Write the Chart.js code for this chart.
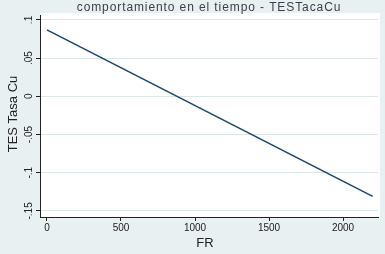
<!DOCTYPE html>
<html><head><meta charset="utf-8">
<script src="https://cdn.jsdelivr.net/npm/chart.js@4/dist/chart.umd.min.js"></script>
<style>html,body{margin:0;padding:0;background:#e9f0f1;}#c{display:block;}</style>
</head><body>
<canvas id="c" width="385" height="254"></canvas>
<script>
const frValues = [0, 2200];
const tesValues = [0.087, -0.131];
const xTickValues = [0, 500, 1000, 1500, 2000];
const yTickValues = [0.1, 0.05, 0, -0.05, -0.1, -0.15];
const yTickLabels = ['.1', '.05', '0', '-.05', '-.1', '-.15'];
const titleText = 'comportamiento en el tiempo - TESTacaCu';
const xTitle = 'FR';
const yTitle = 'TES Tasa Cu';

const FONT = '"Liberation Sans", Arial, sans-serif';

const deco = {
  id: 'deco',
  beforeDraw(chart) {
    const ctx = chart.ctx, a = chart.chartArea;
    ctx.save();
    ctx.fillStyle = '#e9f0f1';
    ctx.fillRect(0, 0, chart.width, chart.height);
    ctx.fillStyle = '#ffffff';
    ctx.fillRect(a.left, a.top - 2, a.right - a.left + 2, a.bottom - a.top + 2);
    ctx.restore();
  },
  afterDraw(chart) {
    const ctx = chart.ctx, ys = chart.scales.y;
    ctx.save();
    ctx.fillStyle = '#222';
    ctx.font = '10px ' + FONT;
    ctx.textAlign = 'center';
    ctx.textBaseline = 'middle';
    yTickValues.forEach((v, i) => {
      const py = ys.getPixelForValue(v);
      ctx.save();
      ctx.translate(29, py);
      ctx.rotate(-Math.PI / 2);
      ctx.fillText(yTickLabels[i], 0, 0);
      ctx.restore();
    });
    ctx.font = '13px ' + FONT;
    ctx.save();
    ctx.translate(13, 114);
    ctx.rotate(-Math.PI / 2);
    ctx.fillText(yTitle, 0, 0);
    ctx.restore();
    ctx.fillText(xTitle, 205, 243);
    ctx.font = '12px ' + FONT;
    ctx.letterSpacing = '0.9px';
    ctx.fillStyle = '#3a3f48';
    ctx.fillText(titleText, 209, 8);
    ctx.restore();
  }
};

new Chart(document.getElementById('c'), {
  type: 'scatter',
  data: {
    datasets: [{
      data: frValues.map((x, i) => ({x, y: tesValues[i]})),
      showLine: true,
      borderColor: '#1a476f',
      borderWidth: 1.6,
      pointRadius: 0,
      fill: false
    }]
  },
  options: {
    responsive: false,
    animation: false,
    layout: { padding: { top: 15, right: 7, left: 0, bottom: 0 } },
    plugins: { legend: { display: false }, tooltip: { enabled: false } },
    scales: {
      x: {
        type: 'linear', min: -47, max: 2236,
        afterBuildTicks: s => { s.ticks = xTickValues.map(v => ({value: v})); },
        afterFit: s => { s.height = 37; },
        grid: { display: true, drawOnChartArea: false, drawTicks: true, tickLength: 4, color: '#222', lineWidth: 1 },
        border: { display: true, color: '#222', width: 1 },
        ticks: { color: '#222', font: { size: 10, family: FONT }, padding: 1, maxRotation: 0, autoSkip: false,
                 callback: v => String(v) }
      },
      y: {
        type: 'linear', min: -0.158, max: 0.1065,
        afterBuildTicks: s => { s.ticks = yTickValues.map(v => ({value: v})); },
        afterFit: s => { s.width = 40; },
        grid: { display: true, drawOnChartArea: true, drawTicks: true, tickLength: 4,
                color: '#dde7e8', tickColor: '#222', lineWidth: 1 },
        border: { display: true, color: '#222', width: 1 },
        ticks: { display: false }
      }
    }
  },
  plugins: [deco]
});
</script>
</body></html>
